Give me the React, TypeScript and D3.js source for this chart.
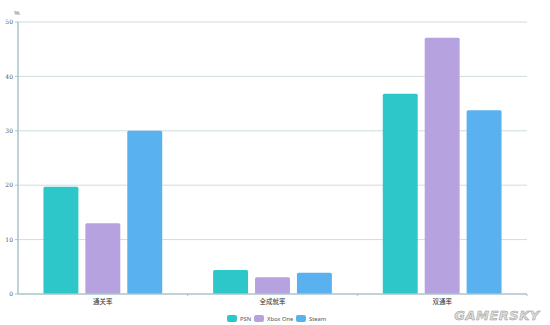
import React from "react";
import * as d3 from "d3";

const categories = ["通关率", "全成就率", "双通率"];
const seriesNames = ["PSN", "Xbox One", "Steam"];
const psn = [19.7, 4.4, 36.8];
const xbox = [13.0, 3.1, 47.1];
const steam = [30.0, 3.9, 33.8];
const yTicks = [0, 10, 20, 30, 40, 50];
const colors = ["#2ec7c9", "#b6a2de", "#5ab1ef"];

const W = 550, H = 325;
const left = 18, right = 527, top = 22, bottom = 294;

export default function App() {
  const series = [psn, xbox, steam];
  const x = d3.scaleBand<string>().domain(categories).range([left, right]);
  const bw = x.bandwidth();
  const inner = bw * 0.7;
  const xs = d3.scaleBand<string>().domain(seriesNames).range([(bw - inner) / 2, (bw + inner) / 2]).paddingInner(0.1667).paddingOuter(0);
  const y = d3.scaleLinear().domain([0, 50]).range([bottom, top]);
  const cjk = "'Noto Sans CJK SC', 'Noto Sans', sans-serif";

  const legendItems = [
    { name: "PSN", x: 227, w: 10 },
    { name: "Xbox One", x: 254, w: 10 },
    { name: "Steam", x: 296, w: 10 },
  ];

  return (
    <svg width={W} height={H} style={{ position: "absolute", left: 0, top: 0, background: "#fff" }}>
      {yTicks.map((t) => (
        <g key={t}>
          {t > 0 && <line x1={left} x2={right} y1={y(t)} y2={y(t)} stroke="#cfdcdf" strokeWidth={1} />}
          <line x1={left - 3} x2={left} y1={y(t)} y2={y(t)} stroke="#a9c5c9" />
          <text x={left - 5} y={y(t)} dy="0.35em" textAnchor="end" fontSize={6} fill="#555" fontFamily="'DejaVu Serif', serif">{t}</text>
        </g>
      ))}
      <text x={17} y={15} fontSize={6} fill="#555" fontFamily="sans-serif" textAnchor="middle">%</text>
      {categories.map((c, ci) => (
        <g key={c}>
          {series.map((s, si) => {
            const bx = (x(c) ?? 0) + (xs(seriesNames[si]) ?? 0);
            const by = y(s[ci]);
            return <rect key={si} x={bx} y={by} width={xs.bandwidth()} height={bottom - by} rx={1.5} fill={colors[si]} />;
          })}
          <text x={(x(c) ?? 0) + bw / 2} y={bottom + 10} textAnchor="middle" fontSize={6.5} fill="#333" fontFamily={cjk}>{c}</text>
        </g>
      ))}
      {categories.map((c, i) => (
        <line key={"t" + i} x1={(x(c) ?? 0) + bw} x2={(x(c) ?? 0) + bw} y1={bottom} y2={bottom + 2} stroke="#a9c5c9" />
      ))}
      <line x1={left} x2={left} y1={top} y2={bottom} stroke="#a9c5c9" strokeWidth={1.5} />
      <line x1={left} x2={right} y1={bottom} y2={bottom} stroke="#a9c5c9" strokeWidth={1.5} />
      {legendItems.map((it, i) => (
        <g key={it.name}>
          <rect x={it.x} y={315} width={it.w} height={7} rx={2} fill={colors[i]} />
          <text x={it.x + it.w + 3} y={318.5} dy="0.35em" fontSize={5.8} fill="#555" fontFamily="'Noto Sans', sans-serif">{it.name}</text>
        </g>
      ))}
      <text x={497} y={320} textAnchor="middle" fontSize={13} fontStyle="italic" fontWeight="bold" fill="#ddd" stroke="#999" strokeWidth={0.5} fontFamily="'DejaVu Sans', sans-serif" letterSpacing={0.5}>GAMERSKY</text>
    </svg>
  );
}
